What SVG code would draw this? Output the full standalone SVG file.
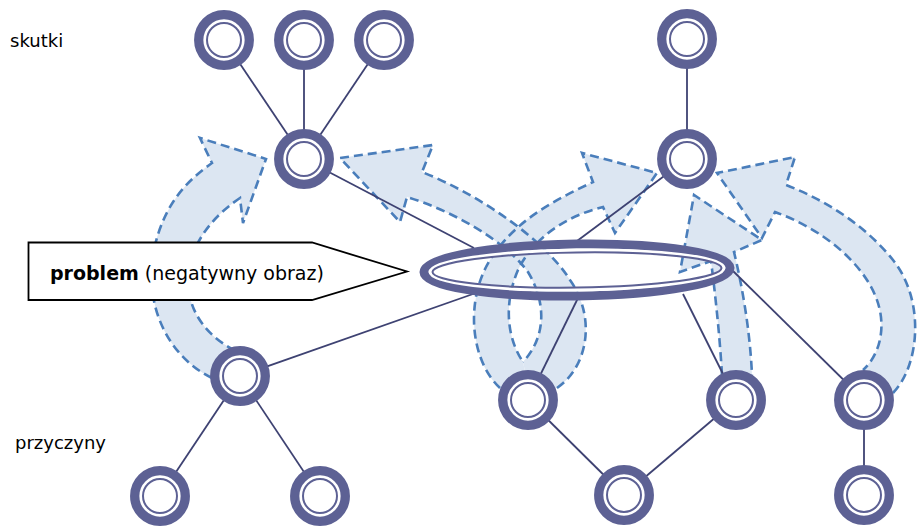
<svg xmlns="http://www.w3.org/2000/svg" xmlns:xlink="http://www.w3.org/1999/xlink" width="917" height="527" viewBox="0 0 917 527">
<style>
.bg{fill:#ffffff}
.afill{fill:#dce6f2;stroke:none}
.aline{fill:none;stroke:#4a7ebb;stroke-width:2.6;stroke-dasharray:9 5}
.conn{stroke:#3e4272;stroke-width:1.8;fill:none}
.ring{fill:#ffffff;stroke:#5d6194;stroke-width:9.3}
.inring{fill:none;stroke:#5d6194;stroke-width:2}
.lbl{font-family:"DejaVu Sans",Verdana,sans-serif;font-size:18px;fill:#000000}
.callout{fill:#ffffff;stroke:#000000;stroke-width:1.8}
</style>
<defs>
<g id="nd"><circle class="ring" r="25.3"/><circle class="inring" r="17"/></g>
</defs>
<rect class="bg" width="917" height="527"/>

<g id="arrows">
<path class="afill" d="M 212,378 C 165,355 142,300 155,245 C 165,205 185,182 212,163 L 200,138 L 266,159 L 243,223 L 240,198 C 215,215 195,238 189,268 C 184,300 198,330 232,349 Z"/>
<path class="afill" d="M 557,388 C 590,365 595,315 570,280 C 545,240 480,195 422,172 L 433,145 L 340,158 L 400,222 L 407,197 C 450,210 505,240 528,272 C 545,300 548,335 523,362 L 528,385 Z"/>
<path class="afill" d="M 500,388 C 470,360 465,300 490,260 C 515,220 555,200 593,182 L 582,153 L 657,173 L 615,233 L 603,207 C 570,215 535,235 518,270 C 505,300 505,335 523,362 L 528,385 Z"/>
<path class="afill" d="M 722,375 C 720,340 716,300 711,261 L 680,272 L 694,195 L 762,240 L 734,252 C 742,285 750,330 752,375 Z"/>
<path class="afill" d="M 893,393 C 920,365 925,300 893,260 C 865,225 825,200 786,185 L 795,157 L 717,173 L 762,238 L 775,212 C 820,228 860,260 875,295 C 888,325 880,355 863,370 Z"/>

<path class="aline" d="M 212,378 C 165,355 142,300 155,245 C 165,205 185,182 212,163 L 200,138 L 266,159 L 243,223 L 240,198 C 215,215 195,238 189,268 C 184,300 198,330 232,349"/>
<path class="aline" d="M 557,388 C 590,365 595,315 570,280 C 545,240 480,195 422,172 L 433,145 L 340,158 L 400,222 L 407,197 C 450,210 505,240 528,272 C 545,300 548,335 523,362"/>
<path class="aline" d="M 500,388 C 470,360 465,300 490,260 C 515,220 555,200 593,182 L 582,153 L 657,173 L 615,233 L 603,207 C 570,215 535,235 518,270 C 505,300 505,335 523,362"/>
<path class="aline" d="M 722,375 C 720,340 716,300 711,261 L 680,272 L 694,195 L 762,240 L 734,252 C 742,285 750,330 752,375"/>
<path class="aline" d="M 893,393 C 920,365 925,300 893,260 C 865,225 825,200 786,185 L 795,157 L 717,173 L 762,238 L 775,212 C 820,228 860,260 875,295 C 888,325 880,355 863,370"/>
</g>

<g id="connectors">
<line class="conn" x1="224" y1="40" x2="304" y2="159"/>
<line class="conn" x1="304" y1="40" x2="304" y2="159"/>
<line class="conn" x1="384" y1="40" x2="304" y2="159"/>
<line class="conn" x1="687" y1="39" x2="687" y2="159"/>
<line class="conn" x1="304" y1="159" x2="474" y2="248"/>
<line class="conn" x1="687" y1="159" x2="577" y2="241"/>
<line class="conn" x1="240" y1="376" x2="473" y2="294"/>
<line class="conn" x1="240" y1="376" x2="160" y2="496"/>
<line class="conn" x1="240" y1="376" x2="320" y2="496"/>
<line class="conn" x1="528" y1="400" x2="578" y2="298"/>
<line class="conn" x1="736" y1="400" x2="683" y2="294"/>
<line class="conn" x1="864" y1="400" x2="733" y2="271"/>
<line class="conn" x1="528" y1="400" x2="624" y2="495"/>
<line class="conn" x1="736" y1="400" x2="624" y2="495"/>
<line class="conn" x1="864" y1="400" x2="864" y2="495"/>
</g>

<g id="problem" transform="rotate(-0.8 577 270)">
<ellipse cx="577" cy="270" rx="153" ry="26" fill="none" stroke="#5d6194" stroke-width="9"/>
<ellipse cx="577" cy="270" rx="147" ry="20" fill="none" stroke="#ffffff" stroke-width="3"/>
<ellipse cx="577" cy="270" rx="144.5" ry="17.5" fill="none" stroke="#5d6194" stroke-width="2"/>
</g>

<g id="n-top1"><use xlink:href="#nd" x="224" y="40"/></g>
<g id="n-top2"><use xlink:href="#nd" x="304" y="40"/></g>
<g id="n-top3"><use xlink:href="#nd" x="384" y="40"/></g>
<g id="n-mid1"><use xlink:href="#nd" x="304" y="159"/></g>
<g id="n-top4"><use xlink:href="#nd" x="687" y="39"/></g>
<g id="n-mid2"><use xlink:href="#nd" x="687" y="159"/></g>
<g id="n-c1"><use xlink:href="#nd" x="240" y="376"/></g>
<g id="n-c1a"><use xlink:href="#nd" x="160" y="496"/></g>
<g id="n-c1b"><use xlink:href="#nd" x="320" y="496"/></g>
<g id="n-c2"><use xlink:href="#nd" x="528" y="400"/></g>
<g id="n-c3"><use xlink:href="#nd" x="736" y="400"/></g>
<g id="n-c23"><use xlink:href="#nd" x="624" y="495"/></g>
<g id="n-c4"><use xlink:href="#nd" x="864" y="400"/></g>
<g id="n-c4a"><use xlink:href="#nd" x="864" y="495"/></g>

<g id="callout">
<polygon class="callout" points="28.5,242.5 312,242.5 407,271.5 312,300 28.5,300"/>
<text class="lbl" x="50" y="280" style="font-size:19px"><tspan font-weight="bold">problem</tspan> (negatywny obraz)</text>
</g>

<g id="labels">
<text class="lbl" x="10" y="47">skutki</text>
<text class="lbl" x="15" y="449">przyczyny</text>
</g>
</svg>
